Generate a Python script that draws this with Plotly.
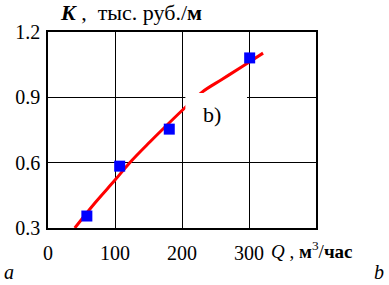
import plotly.graph_objects as go

# Fitted curve
curve_q = [40, 70, 100, 122, 152, 180, 204, 230, 260, 290, 321]
curve_k = [0.30, 0.415, 0.52, 0.60, 0.695, 0.78, 0.851, 0.924, 0.983, 1.042, 1.103]

# Measured points
pts_q = [58, 107, 181, 301]
pts_k = [0.355, 0.584, 0.754, 1.081]

x_ticks = [0, 100, 200, 300]
y_ticks = [0.3, 0.6, 0.9, 1.2]

FONT = "Liberation Serif"

fig = go.Figure()
fig.add_trace(go.Scatter(x=curve_q, y=curve_k, mode="lines",
                         line=dict(color="#ff0000", width=3), line_shape="spline",
                         hoverinfo="skip"))
fig.add_trace(go.Scatter(x=pts_q, y=pts_k, mode="markers",
                         marker=dict(symbol="square", size=11, color="#0000ff",
                                     line=dict(width=0)),
                         hoverinfo="skip"))

# white label box covering part of the chart
fig.add_shape(type="rect", xref="x", yref="y", x0=205, x1=297, y0=0.718, y1=0.92,
              fillcolor="white", line=dict(width=0), layer="above")

fig.add_annotation(x=245, y=0.822, xref="x", yref="y", text="b)", showarrow=False,
                   font=dict(family=FONT, size=22, color="black"))

fig.add_annotation(x=0.037, y=1.102, xref="paper", yref="paper", xanchor="left", yanchor="middle",
                   text="<b><i>K</i></b> ,  тыс. руб./<b>м</b>", showarrow=False,
                   font=dict(family=FONT, size=22, color="black"))
fig.add_annotation(x=0.826, y=-0.112, xref="paper", yref="paper", xanchor="left", yanchor="middle",
                   text="<i>Q</i> , <b>м</b><sup>3</sup>/<b>час</b>", showarrow=False,
                   font=dict(family=FONT, size=19, color="black"))
fig.add_annotation(x=-0.17, y=-0.225, xref="paper", yref="paper", xanchor="left", yanchor="middle",
                   text="<i>a</i>", showarrow=False,
                   font=dict(family=FONT, size=20, color="black"))
fig.add_annotation(x=1.262, y=-0.225, xref="paper", yref="paper", xanchor="right", yanchor="middle",
                   text="<i>b</i>", showarrow=False,
                   font=dict(family=FONT, size=20, color="black"))

fig.update_layout(
    width=389, height=285,
    margin=dict(l=48, r=73, t=32, b=57),
    paper_bgcolor="white", plot_bgcolor="white",
    showlegend=False,
    font=dict(family=FONT, size=19, color="black"),
    xaxis=dict(range=[0, 400], tickvals=x_ticks, ticktext=[str(v) for v in x_ticks],
               showgrid=True, gridcolor="black", gridwidth=1,
               showline=True, linecolor="black", linewidth=1.5, mirror=True,
               zeroline=False, ticks="", ticklabelstandoff=6, automargin=False,
               tickfont=dict(family=FONT, size=20, color="black")),
    yaxis=dict(range=[0.3, 1.2], tickvals=y_ticks, ticktext=["0.3", "0.6", "0.9", "1.2"],
               showgrid=True, gridcolor="black", gridwidth=1,
               showline=True, linecolor="black", linewidth=1.5, mirror=True,
               zeroline=False, ticks="", ticklabelstandoff=2, automargin=False,
               tickfont=dict(family=FONT, size=20, color="black")),
)

fig.write_html("out.html", config={"displayModeBar": False},
               post_script="document.body.style.margin='0px';document.body.style.padding='0px';")
